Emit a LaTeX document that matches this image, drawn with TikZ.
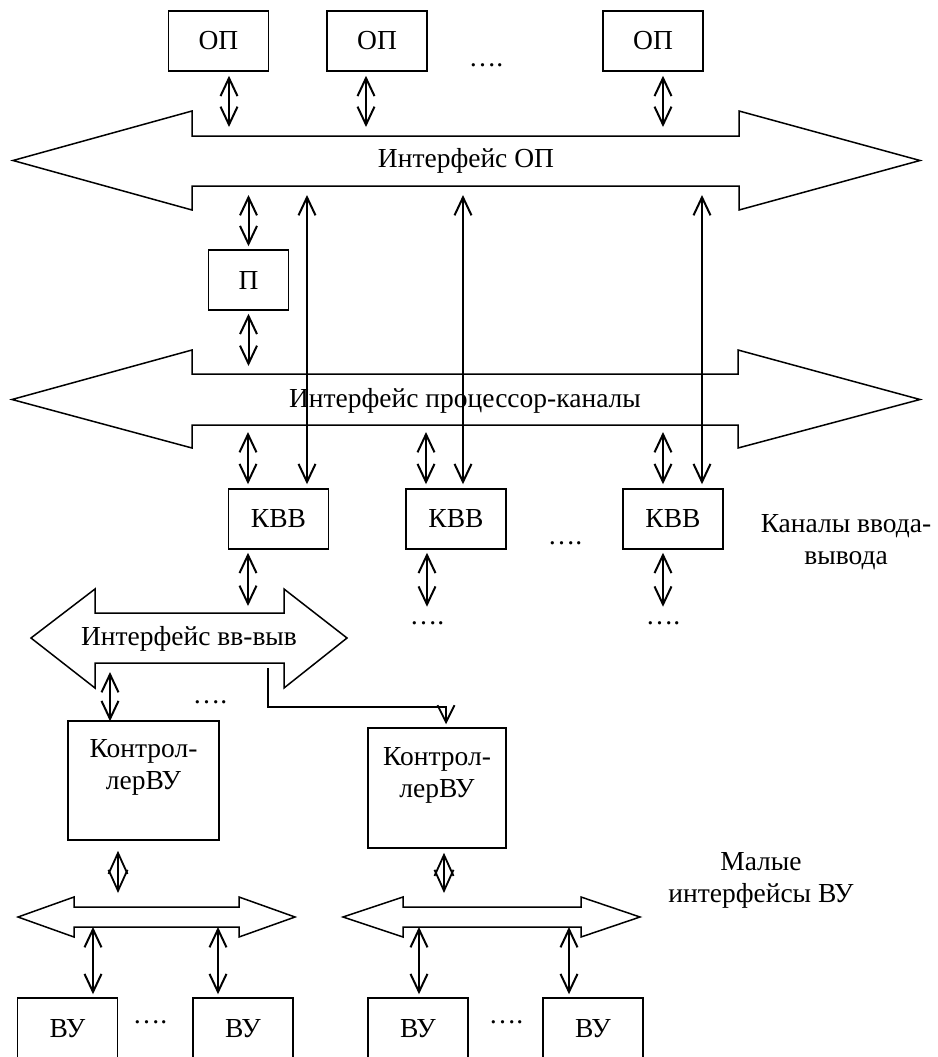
\documentclass[tikz,border=0pt]{standalone}
\usepackage{fontspec}
\setmainfont{Liberation Serif}
\usetikzlibrary{arrows.meta,calc}
\tikzset{
  lbl/.style={font=\fontsize{27.5pt}{32pt}\selectfont, inner sep=0pt},
  unit/.style={lbl, draw, line width=1.5pt, minimum width=100pt, minimum height=60pt},
  bus/.style={line width=1.5pt, line join=miter},
  dl/.style={line width=2pt, {Straight Barb[length=18pt,width=17pt]}-{Straight Barb[length=18pt,width=17pt]}},
  dlsmall/.style={line width=1.8pt, {Straight Barb[length=21pt,width=19pt]}-{Straight Barb[length=21pt,width=19pt]}},
  feed/.style={line width=1.8pt, -{Straight Barb[length=17pt,width=17pt]}},
  dots/.style={lbl, anchor=base}
}
\begin{document}
\begin{tikzpicture}[x=1pt,y=-1pt]
\clip (0,0) rectangle (937,1057);

% system buses
\draw[bus] (13,160.5) -- (192,111) -- (192,136) -- (739,136) -- (739,111) -- (920,160.5)
  -- (739,210) -- (739,186) -- (192,186) -- (192,210) -- cycle;
\draw[bus] (12,399.5) -- (192,350) -- (192,374) -- (738,374) -- (738,350) -- (920,399.5)
  -- (738,448) -- (738,425) -- (192,425) -- (192,448) -- cycle;
\draw[bus] (31,638) -- (95,589) -- (95,613) -- (284,613) -- (284,589) -- (347,638)
  -- (284,688) -- (284,663) -- (95,663) -- (95,688) -- cycle;
\draw[bus] (18,917) -- (74,897) -- (74,907) -- (239,907) -- (239,897) -- (295,917)
  -- (239,937) -- (239,927) -- (74,927) -- (74,937) -- cycle;
\draw[bus] (343,917) -- (403,897) -- (403,907) -- (581,907) -- (581,897) -- (640,917)
  -- (581,937) -- (581,927) -- (403,927) -- (403,937) -- cycle;

% bus edges
\coordinate (b1t) at (466,136); \coordinate (b1b) at (466,186);
\coordinate (b2t) at (466,374); \coordinate (b2b) at (466,425);
\coordinate (b3t) at (189,613); \coordinate (b3b) at (189,663);
\coordinate (b4t) at (156,907); \coordinate (b4b) at (156,927);
\coordinate (b5t) at (492,907); \coordinate (b5b) at (492,927);

% bus labels
\node[lbl, anchor=base] (l1) at (466,167) {Интерфейс ОП};
\node[lbl, anchor=base] (l2) at (465,407) {Интерфейс процессор-каналы};
\node[lbl, anchor=base] (l3) at (189,645) {Интерфейс вв-выв};

% memory modules
\node[unit] (op1) at (218.5,41) {ОП};
\node[unit] (op2) at (377,41) {ОП};
\node[unit] (op3) at (653,41) {ОП};
\node[dots] (d0) at (486,66.5) {….};

% processor
\node[unit, minimum width=80pt] (p) at (248.5,280) {П};

% I/O channels
\node[unit] (k1) at (278.5,519) {КВВ};
\node[unit] (k2) at (456,519) {КВВ};
\node[unit] (k3) at (673,519) {КВВ};
\node[dots] (d1) at (565,544.5) {….};
\node[dots] (d2) at (427,624.5) {….};
\node[dots] (d3) at (663,624.5) {….};
\node[lbl, align=center, anchor=north] (chl) at (846,514) {Каналы ввода-\\вывода};

% device controllers
\node[lbl, draw, line width=1.5pt, minimum width=151pt, minimum height=119pt, align=center]
  (c1) at (143.5,780.5) {Контрол-\\лерВУ\\\mbox{}};
\node[lbl, draw, line width=1.5pt, minimum width=138pt, minimum height=120pt, align=center]
  (c2) at (437,788) {Контрол-\\лерВУ\\\mbox{}};
\node[dots] (d4) at (210,703.5) {….};
\coordinate (tap) at (268,668);

% devices
\node[unit, minimum height=62pt] (v1) at (67.5,1029) {ВУ};
\node[unit, minimum height=62pt] (v2) at (243,1029) {ВУ};
\node[unit, minimum height=62pt] (v3) at (418,1029) {ВУ};
\node[unit, minimum height=62pt] (v4) at (593,1029) {ВУ};
\node[dots] (d5) at (150,1023.5) {….};
\node[dots] (d6) at (506,1023.5) {….};
\node[lbl, align=center, anchor=north] (sml) at (761,852) {Малые\\интерфейсы ВУ};

% memory <-> memory interface
\draw[dl] ($(op1.south)+(10.5,4)$) -- ($(op1.south |- b1t)+(10.5,-9)$);
\draw[dl] ($(op2.south)+(-11,4)$) -- ($(op2.south |- b1t)+(-11,-9)$);
\draw[dl] ($(op3.south)+(10,4)$) -- ($(op3.south |- b1t)+(10,-9)$);

% processor links
\draw[dl] ($(p.north |- b1b)+(0,9)$) -- ($(p.north)+(0,-3)$);
\draw[dl] ($(p.south)+(0,3)$) -- ($(p.south |- b2t)+(0,-8)$);

% direct channel <-> memory links
\draw[dl] ($(k1.north |- b1b)+(28.5,9)$) -- ($(k1.north)+(28.5,-4)$);
\draw[dl] ($(k2.north |- b1b)+(7,9)$) -- ($(k2.north)+(7,-4)$);
\draw[dl] ($(k3.north |- b1b)+(29,9)$) -- ($(k3.north)+(29,-4)$);

% channels <-> processor-channel interface
\draw[dl] ($(k1.north |- b2b)+(-30.5,7)$) -- ($(k1.north)+(-30.5,-4)$);
\draw[dl] ($(k2.north |- b2b)+(-30,7)$) -- ($(k2.north)+(-30,-4)$);
\draw[dl] ($(k3.north |- b2b)+(-10,7)$) -- ($(k3.north)+(-10,-4)$);

% channels downwards
\draw[dl] ($(k1.south)+(-30.5,3)$) -- ($(k1.south |- b3t)+(-30.5,-7)$);
\draw[dl] ($(k2.south)+(-29,3)$) -- ($(k2.south)+(-29,57)$);
\draw[dl] ($(k3.south)+(-10,3)$) -- ($(k3.south)+(-10,57)$);

% I/O interface to controllers
\draw[dl] ($(c1.north |- b3b)+(-33.5,9)$) -- ($(c1.north)+(-33.5,1)$);
\draw[feed] (tap) |- ($(c2.north)+(9,-20)$) -- ($(c2.north)+(9,-3)$);

% controllers to small interfaces
\draw[dlsmall] ($(c1.south)+(-25.5,10)$) -- ($(c1.south |- b4t)+(-25.5,-14)$);
\draw[dlsmall] ($(c2.south)+(7,4)$) -- ($(c2.south |- b5t)+(7,-14)$);

% small interfaces to devices
\draw[dl] ($(v1.north |- b4b)+(25.5,0)$) -- ($(v1.north)+(25.5,-3)$);
\draw[dl] ($(v2.north |- b4b)+(-25,0)$) -- ($(v2.north)+(-25,-3)$);
\draw[dl] ($(v3.north |- b5b)+(1,0)$) -- ($(v3.north)+(1,-3)$);
\draw[dl] ($(v4.north |- b5b)+(-24,0)$) -- ($(v4.north)+(-24,-3)$);
\end{tikzpicture}
\end{document}
